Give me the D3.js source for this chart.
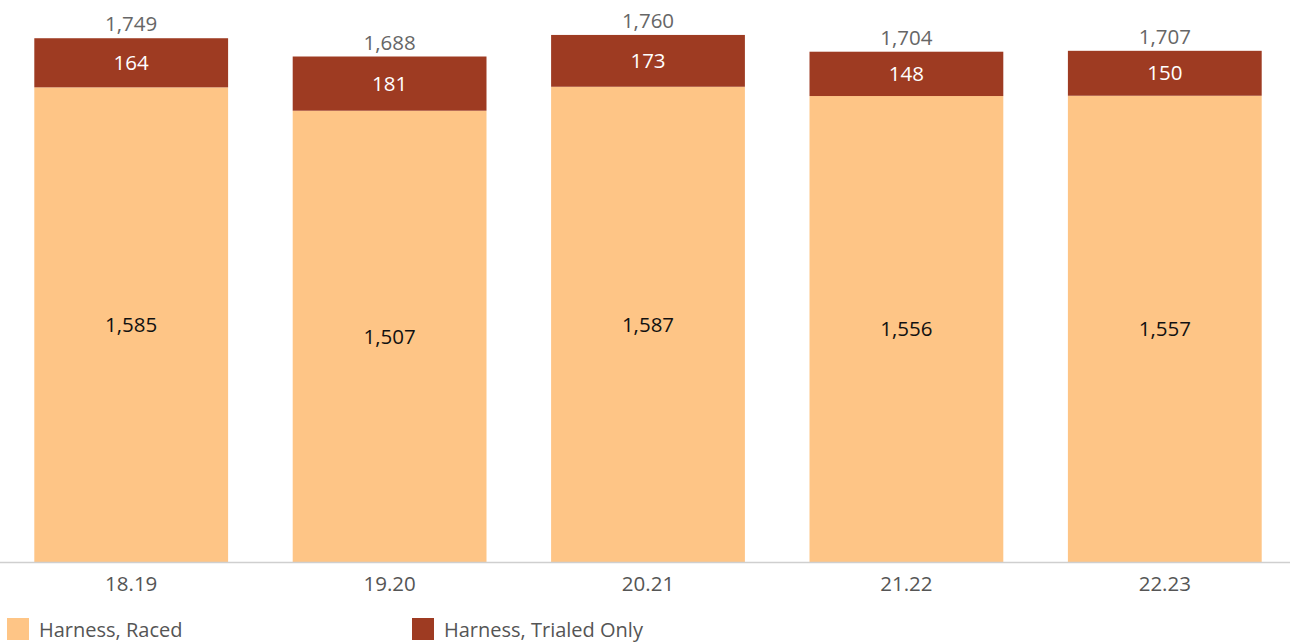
<!DOCTYPE html>
<html><head><meta charset="utf-8">
<script src="https://cdn.jsdelivr.net/npm/d3@7"></script>
<style>body{margin:0;background:#fff}svg{display:block}text{font-family:"Open Sans",sans-serif}</style>
</head><body><svg id="c" width="1290" height="643"></svg>
<script>
const categories = ["18.19","19.20","20.21","21.22","22.23"];
const raced = [1585,1507,1587,1556,1557];
const trialed = [164,181,173,148,150];
const seriesNames = ["Harness, Raced","Harness, Trialed Only"];
const colors = ["#FEC586","#9E3B22"];
const fmt = d3.format(",");

const svg = d3.select("#c");
const x = d3.scaleBand().domain(categories).range([2,1294]).paddingInner(0.25).paddingOuter(0.125);
const y = d3.scaleLinear().domain([0,1870]).range([562,2]);

const data = categories.map((c,i)=>({c, r:raced[i], t:trialed[i], tot:raced[i]+trialed[i]}));

const g = svg.append("g");
g.selectAll(".r").data(data).join("rect")
  .attr("x",d=>x(d.c)).attr("width",x.bandwidth())
  .attr("y",d=>y(d.r)).attr("height",d=>y(0)-y(d.r)).attr("fill",colors[0]);
g.selectAll(".t").data(data).join("rect")
  .attr("x",d=>x(d.c)).attr("width",x.bandwidth())
  .attr("y",d=>y(d.tot)).attr("height",d=>y(d.r)-y(d.tot)).attr("fill",colors[1]);

// axis line
svg.append("line").attr("x1",0).attr("x2",1290).attr("y1",y(0)+0.5).attr("y2",y(0)+0.5)
  .attr("stroke","#cfcfcf").attr("stroke-width",1.5);

const ax = svg.append("g").attr("transform",`translate(0,${y(0)})`)
  .call(d3.axisBottom(x).tickSize(0).tickPadding(14));
ax.select(".domain").remove();
ax.selectAll("text").attr("font-size",20.5).attr("fill","#555").style("font-family","'Open Sans',sans-serif");

// labels
g.selectAll(".lr").data(data).join("text")
  .attr("x",d=>x(d.c)+x.bandwidth()/2).attr("y",d=>(y(d.r)+y(0))/2)
  .attr("dy","0.35em").attr("text-anchor","middle").attr("font-size",20.5).attr("fill","#111")
  .text(d=>fmt(d.r));
g.selectAll(".lt").data(data).join("text")
  .attr("x",d=>x(d.c)+x.bandwidth()/2).attr("y",d=>(y(d.r)+y(d.tot))/2)
  .attr("dy","0.35em").attr("text-anchor","middle").attr("font-size",20.5).attr("fill","#fff")
  .text(d=>fmt(d.t));
g.selectAll(".lo").data(data).join("text")
  .attr("x",d=>x(d.c)+x.bandwidth()/2).attr("y",d=>y(d.tot)-7)
  .attr("text-anchor","middle").attr("font-size",20.5).attr("fill","#666")
  .text(d=>fmt(d.tot));

// legend
const leg = svg.append("g").attr("transform","translate(7,618)");
const lx = [0,405];
seriesNames.forEach((n,i)=>{
  const li = leg.append("g").attr("transform",`translate(${lx[i]},0)`);
  li.append("rect").attr("width",22).attr("height",22).attr("fill",colors[i]);
  li.append("text").attr("x",32).attr("y",12).attr("dy","0.36em").attr("font-size",20).attr("fill","#555").text(n);
});
</script></body></html>
